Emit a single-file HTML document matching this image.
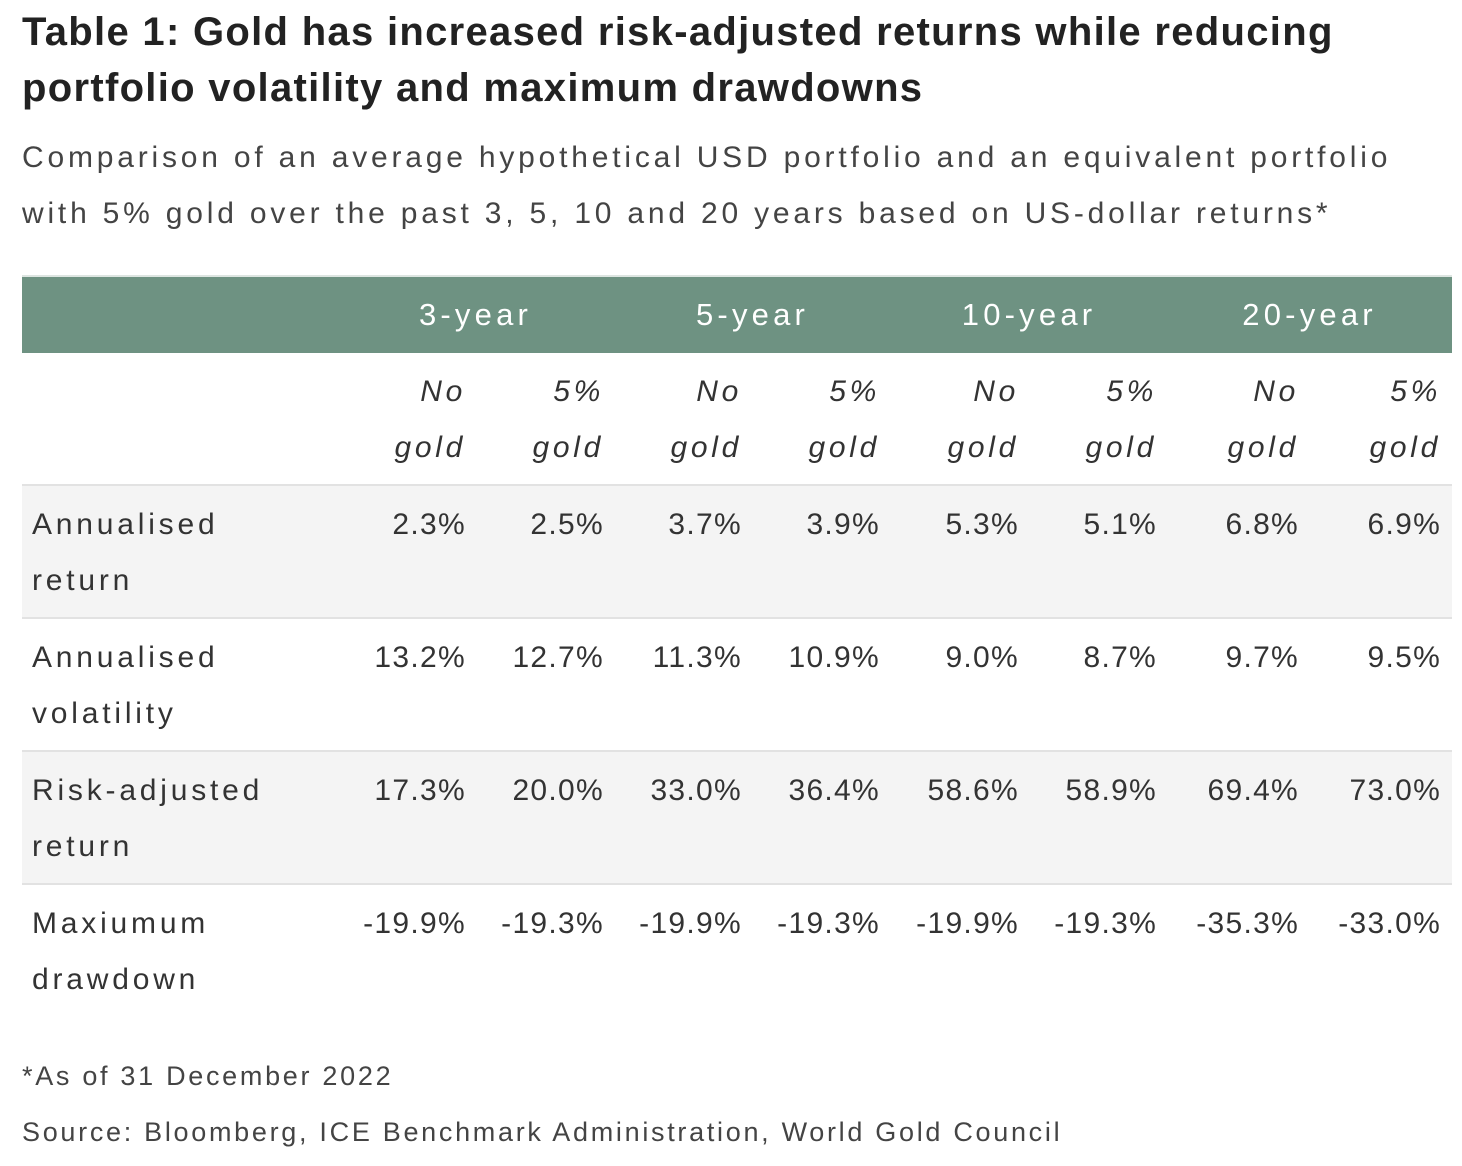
<!DOCTYPE html>
<html><head><meta charset="utf-8"><style>
body{margin:0;background:#fff;width:1462px;height:1166px;overflow:hidden;font-family:"Liberation Sans",sans-serif;color:#333;}
h1{position:absolute;left:22px;top:4px;margin:0;font-size:40px;line-height:56px;font-weight:bold;color:#222;letter-spacing:1.3px}
.sub{position:absolute;left:22px;top:130px;font-size:30px;line-height:56px;color:#444;letter-spacing:3.8px}
table{position:absolute;left:22px;top:275px;width:1430px;border-collapse:collapse;table-layout:fixed;font-size:30px;}
td,th{padding:0 11px 0 10px;vertical-align:top;line-height:56px;}
thead th{background:#6e9282;color:#fff;font-weight:normal;height:76px;vertical-align:middle;text-align:center;font-size:31px;border-top:2px solid #dde5e1;letter-spacing:4.2px}
.it td{font-style:italic;text-align:right;padding-top:11px;padding-bottom:8px;letter-spacing:3.7px}
tbody tr{border-top:2px solid #e2e2e2}
tbody tr.g{background:#f4f4f4}
tbody td{text-align:right;padding-top:11px;padding-bottom:8px;height:56px;letter-spacing:1.3px}
tbody td:first-child{text-align:left;letter-spacing:3.8px}
.foot{position:absolute;left:22px;top:1048px;font-size:27px;line-height:56px;color:#444;letter-spacing:2.7px}
</style></head><body>
<h1>Table 1: Gold has increased risk-adjusted returns while reducing<br>portfolio volatility and maximum drawdowns</h1>
<div class="sub">Comparison of an average hypothetical USD portfolio and an equivalent portfolio<br>with 5% gold over the past 3, 5, 10 and 20 years based on US-dollar returns*</div>
<table>
<colgroup><col style="width:315px"><col style="width:140px"><col style="width:138px"><col style="width:138px"><col style="width:138px"><col style="width:139px"><col style="width:138px"><col style="width:142px"><col style="width:142px"></colgroup>
<thead><tr><th></th><th colspan="2">3-year</th><th colspan="2">5-year</th><th colspan="2">10-year</th><th colspan="2">20-year</th></tr></thead>
<tbody>
<tr class="it" style="border-top:none"><td></td><td>No<br>gold</td><td>5%<br>gold</td><td>No<br>gold</td><td>5%<br>gold</td><td>No<br>gold</td><td>5%<br>gold</td><td>No<br>gold</td><td>5%<br>gold</td></tr>
<tr class="g"><td>Annualised<br>return</td><td>2.3%</td><td>2.5%</td><td>3.7%</td><td>3.9%</td><td>5.3%</td><td>5.1%</td><td>6.8%</td><td>6.9%</td></tr>
<tr><td>Annualised<br>volatility</td><td>13.2%</td><td>12.7%</td><td>11.3%</td><td>10.9%</td><td>9.0%</td><td>8.7%</td><td>9.7%</td><td>9.5%</td></tr>
<tr class="g"><td>Risk-adjusted<br>return</td><td>17.3%</td><td>20.0%</td><td>33.0%</td><td>36.4%</td><td>58.6%</td><td>58.9%</td><td>69.4%</td><td>73.0%</td></tr>
<tr><td>Maxiumum<br>drawdown</td><td>-19.9%</td><td>-19.3%</td><td>-19.9%</td><td>-19.3%</td><td>-19.9%</td><td>-19.3%</td><td>-35.3%</td><td>-33.0%</td></tr>
</tbody></table>
<div class="foot">*As of 31 December 2022<br>Source: Bloomberg, ICE Benchmark Administration, World Gold Council</div>
</body></html>
